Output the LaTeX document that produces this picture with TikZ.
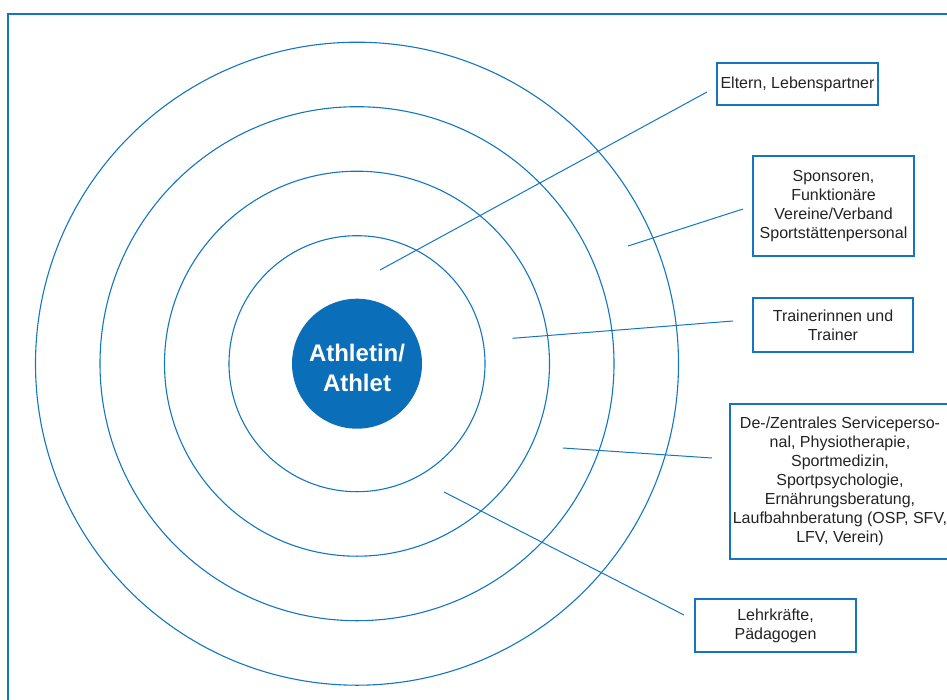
\documentclass[tikz,border=0pt]{standalone}
\usepackage{fontspec}
\setmainfont{Liberation Sans}
\definecolor{ringblue}{RGB}{20,118,192}
\definecolor{fillblue}{RGB}{10,110,185}
\definecolor{txt}{RGB}{35,35,35}
\begin{document}
\begin{tikzpicture}[x=1pt,y=-1pt,
  ring/.style={draw=ringblue,line width=1.1pt},
  lbox/.style={draw=ringblue,line width=1.2pt,text=txt,align=center,inner sep=0pt,
    font=\fontsize{16}{18.9}\selectfont},
  conn/.style={draw=ringblue,line width=1pt}]
\useasboundingbox (0,0) rectangle (947,699);
\draw[draw=ringblue,line width=1.6pt] (8,699.5) -- (8,14) -- (947.5,14);
\coordinate (c) at (357,363.7);
\foreach \r in {128,192.5,257,321.5} \draw[ring] (c) circle[radius=\r pt];
\fill[fillblue] (c) circle[radius=65pt];
\node[text=white,align=center,font=\fontsize{24}{30}\selectfont\bfseries] (ath) at (357,368) {Athletin/\\Athlet};
% boxes
\node[lbox,minimum width=161pt,minimum height=42pt] (b1) at (797.5,84) {Eltern, Lebenspartner};
\node[lbox,minimum width=161pt,minimum height=100pt] (b2) at (833.5,206) {Sponsoren,\\Funktionäre\\Vereine/Verband\\Sportstättenpersonal};
\node[lbox,minimum width=160pt,minimum height=54pt] (b3) at (833,325) {Trainerinnen und\\Trainer};
\node[lbox,minimum width=220pt,minimum height=155pt] (b4) at (840,481.5) {De-/Zentrales Serviceperso-\\nal, Physiotherapie,\\Sportmedizin,\\Sportpsychologie,\\Ernährungsberatung,\\Laufbahnberatung (OSP, SFV,\\LFV, Verein)};
\node[lbox,minimum width=161pt,minimum height=53pt] (b5) at (775.5,625.5) {Lehrkräfte,\\Pädagogen};
% connector end points
\coordinate (s1) at (380,270);
\coordinate (e1) at (707,92);
\coordinate (s2) at (628,246);
\coordinate (e2) at (743,209);
\coordinate (s3) at (512.5,338.3);
\coordinate (e3) at (733,321);
\coordinate (s4) at (563,448);
\coordinate (e4) at (712,458);
\coordinate (s5) at (444,492);
\coordinate (e5) at (684,615);
\draw[conn] (s1) -- (e1);
\draw[conn] (s2) -- (e2);
\draw[conn] (s3) -- (e3);
\draw[conn] (s4) -- (e4);
\draw[conn] (s5) -- (e5);
\end{tikzpicture}
\end{document}
